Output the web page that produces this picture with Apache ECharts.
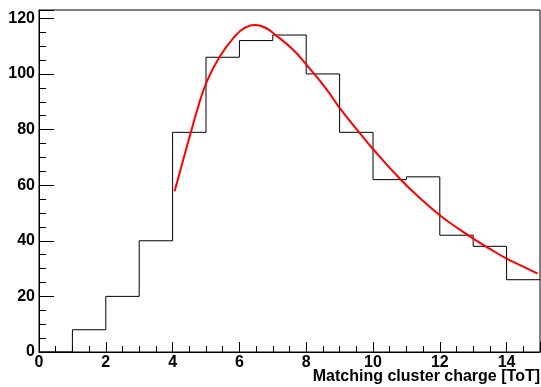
<!DOCTYPE html>
<html>
<head>
<meta charset="utf-8">
<script src="https://cdn.jsdelivr.net/npm/echarts@6/dist/echarts.min.js"></script>
<style>html,body{margin:0;padding:0;background:#fff;}#c{width:541px;height:387px;}</style>
</head>
<body>
<div id="c"></div>
<script>
// Histogram: bin left edges and counts (last edge closes the final bin)
var binEdges = [0, 1, 2, 3, 4, 5, 6, 7, 8, 9, 10, 11, 12, 13, 14, 15];
var counts = [0, 8, 20, 40, 79, 106, 112, 114, 100, 79, 62, 63, 42, 38, 26];
// Fit curve
var fitX = [4.06, 4.31, 4.56, 4.75, 5.0, 5.4, 5.9, 6.15, 6.45, 6.75, 7.05, 7.6, 8.0, 8.6, 9.0, 9.6, 10.0, 10.8, 11.4, 12.0, 12.6, 13.0, 13.5, 14.0, 14.5, 14.93];
var fitY = [57.8, 68.8, 79.6, 87.6, 96.5, 106.0, 114.0, 116.5, 117.6, 116.8, 114.3, 108.8, 103.4, 94.6, 87.8, 78.8, 73.0, 62.4, 55.4, 49.2, 44.0, 40.8, 37.1, 33.6, 30.7, 28.2];
var xTitle = 'Matching cluster charge [ToT]';

var histData = [];
for (var i = 0; i < counts.length; i++) histData.push([binEdges[i], counts[i]]);
histData.push([binEdges[counts.length], counts[counts.length - 1]]);
var fitData = fitX.map(function (x, i) { return [x, fitY[i]]; });

var font = 'Liberation Sans, Arial, Helvetica, sans-serif';
var chart = echarts.init(document.getElementById('c'), null, {renderer: 'canvas'});
chart.setOption({
  animation: false,
  backgroundColor: '#fff',
  grid: {left: 39, right: 1, top: 10, bottom: 35, show: true, borderColor: '#000', borderWidth: 1, containLabel: false},
  title: {
    text: xTitle, right: 1, top: 369, padding: 0,
    textStyle: {fontFamily: font, fontWeight: 'bold', fontSize: 16, color: '#000'}
  },
  xAxis: [{
    type: 'value', min: 0, max: 15, interval: 0.5, position: 'bottom',
    axisLine: {show: true, onZero: false, lineStyle: {color: '#000', width: 1}},
    axisTick: {show: true, inside: true, length: 6, lineStyle: {color: '#000'}},
    axisLabel: {
      margin: 3, fontFamily: font, fontWeight: 'bold', fontSize: 16, color: '#000',
      formatter: function (v) { return (Math.abs(v % 2) < 1e-9) ? String(v) : ''; },
      showMaxLabel: false
    },
    splitLine: {show: false}
  }, {
    type: 'value', min: 0, max: 15, interval: 2, position: 'bottom',
    axisLine: {show: false, onZero: false},
    axisTick: {show: true, inside: true, length: 10, lineStyle: {color: '#000'}},
    axisLabel: {show: false},
    splitLine: {show: false}
  }],
  yAxis: [{
    type: 'value', min: 0, max: 123, interval: 5, position: 'left',
    axisLine: {show: true, onZero: false, lineStyle: {color: '#000', width: 1}},
    axisTick: {show: true, inside: true, length: 7, lineStyle: {color: '#000'}},
    axisLabel: {
      margin: 4, fontFamily: font, fontWeight: 'bold', fontSize: 16, color: '#000',
      formatter: function (v) { return (v % 20 === 0) ? String(v) : ''; }
    },
    splitLine: {show: false}
  }, {
    type: 'value', min: 0, max: 123, interval: 20, position: 'left',
    axisLine: {show: false, onZero: false},
    axisTick: {show: true, inside: true, length: 15, lineStyle: {color: '#000'}},
    axisLabel: {show: false},
    splitLine: {show: false}
  }],
  series: [{
    type: 'line', xAxisIndex: 0, yAxisIndex: 0, step: 'end',
    data: histData, symbol: 'none',
    lineStyle: {color: '#000', width: 1}, z: 2
  }, {
    type: 'line', xAxisIndex: 0, yAxisIndex: 0, smooth: 0.5,
    data: fitData, symbol: 'none',
    lineStyle: {color: '#ff0000', width: 2}, z: 3
  }]
});
</script>
</body>
</html>
